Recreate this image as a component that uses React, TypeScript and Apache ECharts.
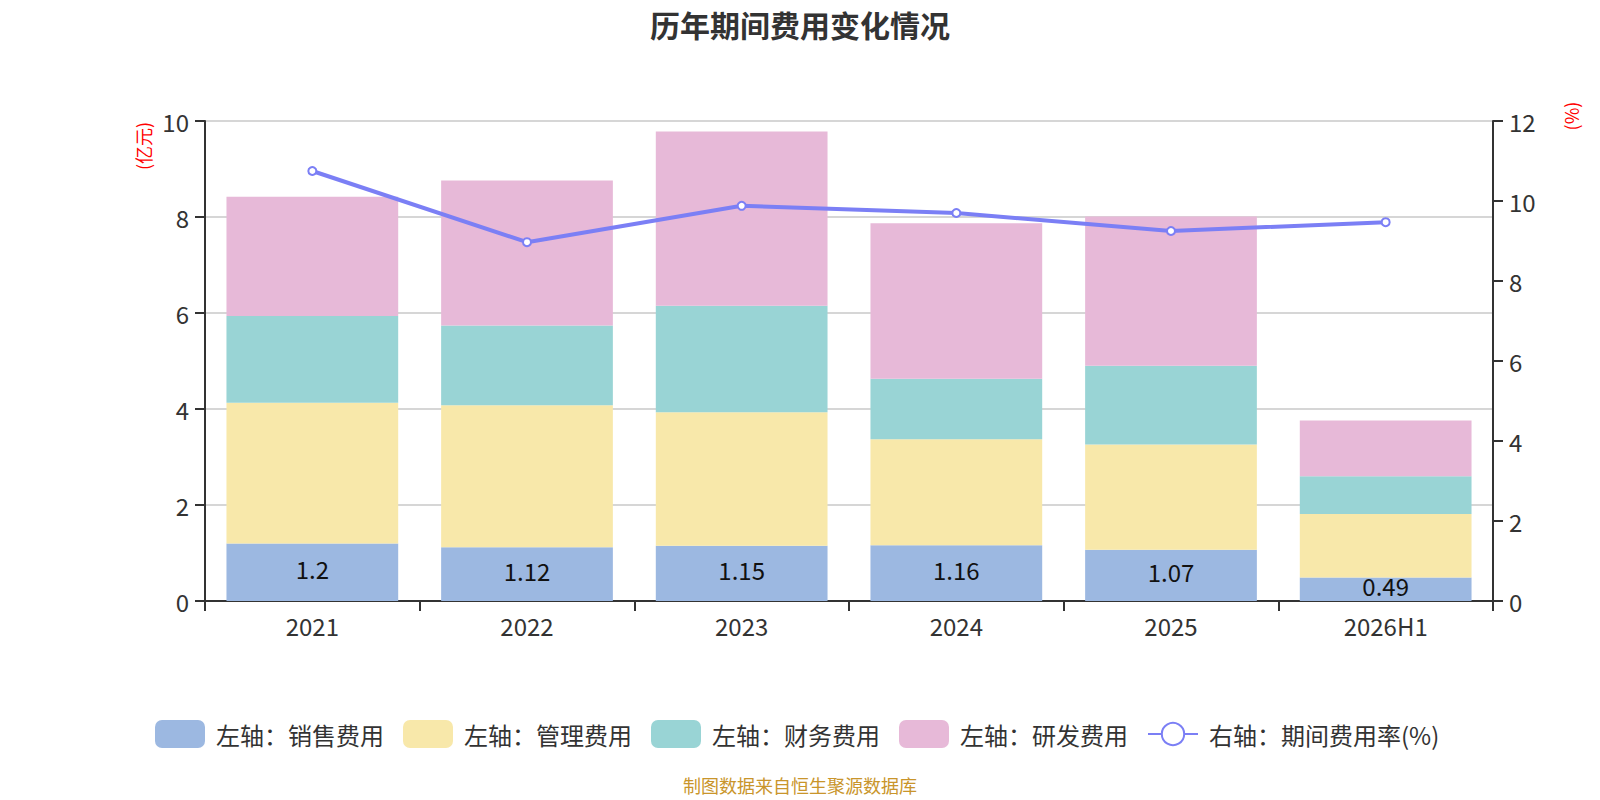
import React, { useEffect, useRef } from "react";
import * as echarts from "echarts";

const categories = ["2021", "2022", "2023", "2024", "2025", "2026H1"];
const salesExpense = [1.2, 1.12, 1.15, 1.16, 1.07, 0.49];
const adminExpense = [2.93, 2.96, 2.78, 2.21, 2.19, 1.32];
const financeExpense = [1.81, 1.66, 2.22, 1.26, 1.64, 0.79];
const rdExpense = [2.48, 3.02, 3.63, 3.24, 3.11, 1.16];
const expenseRate = [10.75, 8.97, 9.88, 9.7, 9.25, 9.47];

const leftTicks = { min: 0, max: 10, interval: 2 };
const rightTicks = { min: 0, max: 12, interval: 2 };

const FONT = '"Noto Sans CJK SC", "Noto Sans", sans-serif';

export default function App() {
  const ref = useRef<HTMLDivElement>(null);

  useEffect(() => {
    if (!ref.current) return;
    const chart = echarts.init(ref.current, null, { renderer: "svg" });
    const axisLine = { show: true, lineStyle: { color: "#333", width: 2 } };
    const axisTick = { show: true, length: 10, lineStyle: { color: "#333", width: 2 } };
    const axisLabel = { color: "#333", fontSize: 24, fontFamily: FONT };
    chart.setOption({
      animation: false,
      textStyle: { fontFamily: FONT },
      title: {
        text: "历年期间费用变化情况",
        left: "center",
        top: 4,
        textStyle: { fontSize: 30, fontWeight: "bold", color: "#333", fontFamily: FONT },
      },
      legend: {
        bottom: 47,
        left: 150,
        itemWidth: 50,
        itemHeight: 28,
        itemGap: 19,
        textStyle: {
          fontSize: 24,
          color: "#333",
          fontFamily: FONT,
          padding: [0, 0, 0, 6],
        },
        data: [
          "左轴：销售费用",
          "左轴：管理费用",
          "左轴：财务费用",
          "左轴：研发费用",
          "右轴：期间费用率(%)",
        ],
      },
      grid: { left: 205, right: 107, top: 121, bottom: 199, containLabel: false },
      xAxis: {
        type: "category",
        data: categories,
        axisLine,
        axisTick,
        axisLabel: { ...axisLabel, margin: 12 },
      },
      yAxis: [
        {
          type: "value",
          ...leftTicks,
          axisLine,
          axisTick,
          axisLabel: { ...axisLabel, margin: 16 },
          splitLine: { show: true, lineStyle: { color: "#c8c8c8", width: 1.5 } },
        },
        {
          type: "value",
          ...rightTicks,
          position: "right",
          axisLine,
          axisTick,
          axisLabel: { ...axisLabel, margin: 16 },
          splitLine: { show: false },
        },
      ],
      graphic: [
        {
          type: "text",
          x: 143,
          y: 146,
          rotation: Math.PI / 2,
          style: {
            text: "(亿元)",
            fill: "#ff0000",
            fontSize: 18,
            fontFamily: FONT,
            align: "center",
            verticalAlign: "middle",
          },
        },
        {
          type: "text",
          x: 1571,
          y: 116,
          rotation: Math.PI / 2,
          style: {
            text: "(%)",
            fill: "#ff0000",
            fontSize: 18,
            fontFamily: FONT,
            align: "center",
            verticalAlign: "middle",
          },
        },
        {
          type: "text",
          x: 800,
          y: 785,
          style: {
            text: "制图数据来自恒生聚源数据库",
            fill: "#C9952B",
            fontSize: 18,
            fontFamily: FONT,
            align: "center",
            verticalAlign: "middle",
          },
        },
      ],
      series: [
        {
          name: "左轴：销售费用",
          type: "bar",
          stack: "total",
          barWidth: "80%",
          data: salesExpense,
          itemStyle: { color: "#9CB8E1" },
          label: {
            show: true,
            position: "inside",
            offset: [0, -4],
            color: "#111",
            fontSize: 24,
            fontFamily: FONT,
          },
        },
        {
          name: "左轴：管理费用",
          type: "bar",
          stack: "total",
          data: adminExpense,
          itemStyle: { color: "#F8E8AA" },
        },
        {
          name: "左轴：财务费用",
          type: "bar",
          stack: "total",
          data: financeExpense,
          itemStyle: { color: "#99D4D5" },
        },
        {
          name: "左轴：研发费用",
          type: "bar",
          stack: "total",
          data: rdExpense,
          itemStyle: { color: "#E7B9D8" },
        },
        {
          name: "右轴：期间费用率(%)",
          type: "line",
          yAxisIndex: 1,
          data: expenseRate,
          symbol: "emptyCircle",
          symbolSize: 8,
          z: 10,
          itemStyle: { color: "#7B7FF5" },
          lineStyle: { color: "#7B7FF5", width: 4 },
        },
      ],
    });
    return () => chart.dispose();
  }, []);

  return (
    <div
      ref={ref}
      style={{ position: "absolute", left: 0, top: 0, width: 1600, height: 800 }}
    />
  );
}
